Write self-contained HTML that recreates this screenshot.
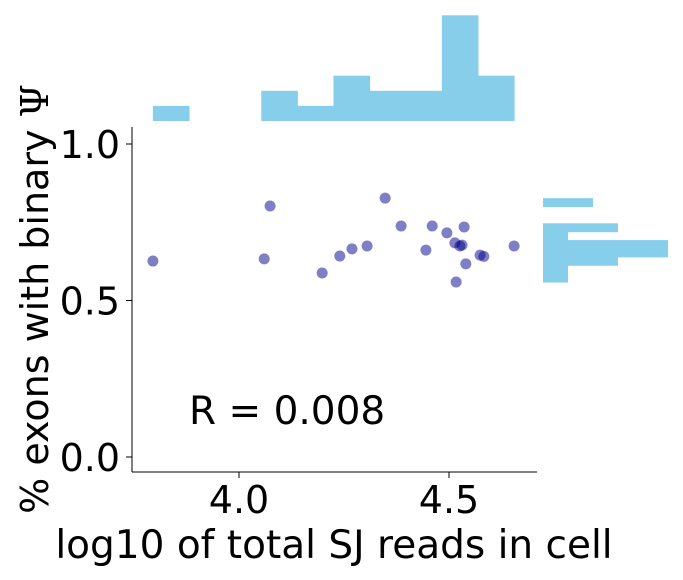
<!DOCTYPE html>
<html><head><meta charset="utf-8"><style>
body{margin:0;background:#fff}
svg text{font-family:"DejaVu Sans","Liberation Sans",sans-serif;fill:#000}
</style></head><body>
<svg id="c" width="683" height="575"></svg>
<script>
const xs=[3.795,4.074,4.06,4.198,4.240,4.269,4.305,4.348,4.386,4.445,4.460,4.495,4.514,4.517,4.526,4.531,4.536,4.540,4.574,4.583,4.655];
const ys=[0.626,0.802,0.633,0.588,0.642,0.665,0.674,0.827,0.738,0.661,0.738,0.716,0.684,0.559,0.674,0.677,0.735,0.617,0.645,0.641,0.674];
const xTicks=[4.0,4.5];
const yTicks=[0.0,0.5,1.0];
const xTickLabels=["4.0","4.5"];
const yTickLabels=["0.0","0.5","1.0"];
const rLabel="R = 0.008";
const nBins=10;

const NS="http://www.w3.org/2000/svg";
const svg=document.getElementById('c');
function mk(t,a,p){const e=document.createElementNS(NS,t);for(const k in a)e.setAttribute(k,a[k]);(p||svg).appendChild(e);return e;}
const X=v=>239+(v-4.0)*420;
const Y=v=>457-v*313;

const xmin=Math.min(...xs),xmax=Math.max(...xs),bw=(xmax-xmin)/nBins;
const xc=new Array(nBins).fill(0);
xs.forEach(v=>{let i=Math.floor((v-xmin)/bw);if(i>=nBins)i=nBins-1;xc[i]++;});
xc.forEach((c,i)=>{if(!c)return;const x0=X(xmin+i*bw),x1=X(xmin+(i+1)*bw);
const r=mk('rect',{x:x0,y:121-c*15.1,width:x1-x0+0.5,height:c*15.1,fill:'#87ceeb'});

});

const ymin=Math.min(...ys),ymax=Math.max(...ys),bh=(ymax-ymin)/nBins;
const yc=new Array(nBins).fill(0);
ys.forEach(v=>{let i=Math.floor((v-ymin)/bh);if(i>=nBins)i=nBins-1;yc[i]++;});
yc.forEach((c,i)=>{if(!c)return;const y0=Y(ymin+(i+1)*bh),y1=Y(ymin+i*bh);
const r=mk('rect',{x:543,y:y0,width:c*25,height:y1-y0+0.5,fill:'#87ceeb'});

});

let s=mk('line',{x1:132,y1:127,x2:132,y2:472,stroke:'#000','stroke-width':1});


s=mk('line',{x1:132,y1:472,x2:537,y2:472,stroke:'#000','stroke-width':1});



xTicks.forEach((v,i)=>{mk('line',{x1:X(v),x2:X(v),y1:472,y2:478,stroke:'#000'});
const t=mk('text',{x:X(v),y:513,'font-size':38,'text-anchor':'middle'});t.textContent=xTickLabels[i];

});
yTicks.forEach((v,i)=>{mk('line',{x1:126,x2:132,y1:Y(v),y2:Y(v),stroke:'#000'});
const t=mk('text',{x:120,y:Y(v)+14,'font-size':38,'text-anchor':'end'});t.textContent=yTickLabels[i];

});

xs.forEach((v,i)=>{const c=mk('circle',{cx:X(v),cy:Y(ys[i]),r:5.5,fill:'#00008b','fill-opacity':0.5});

});

let t=mk('text',{x:189,y:424,'font-size':39});t.textContent=rLabel;


t=mk('text',{x:334,y:558,'font-size':39,'text-anchor':'middle'});t.textContent='log10 of total SJ reads in cell';


t=mk('text',{x:0,y:0,'font-size':38,'text-anchor':'middle',transform:'translate(48,299) rotate(-90)'});


t.appendChild(document.createTextNode('% exons with binary '));
const ps=mk('tspan',{'font-family':'"DejaVu Serif","Liberation Serif",serif'},t);ps.textContent='Ψ';
</script>
</body></html>
